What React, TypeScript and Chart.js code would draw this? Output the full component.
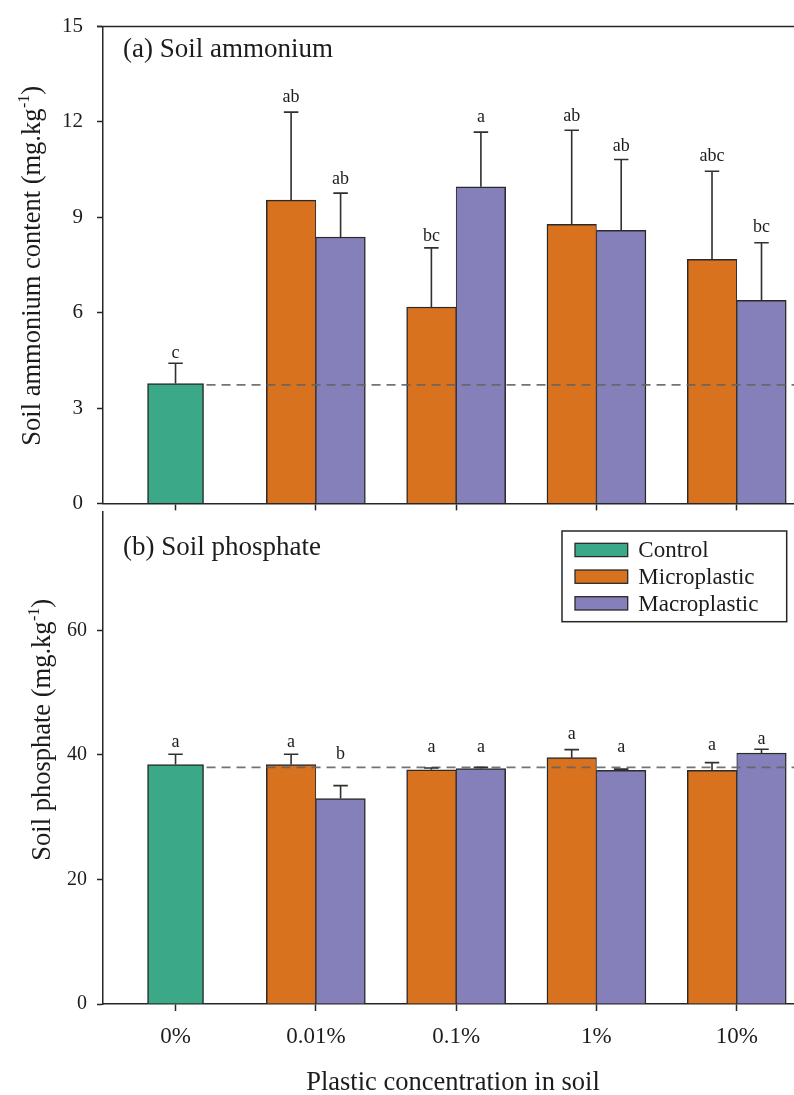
import React, { useEffect, useRef } from 'react';
import { Chart, registerables } from 'chart.js';

Chart.register(...registerables);

const FONT = "'Liberation Serif', 'Times New Roman', Times, serif";
const INK = '#1c1c1c';
const AXIS = '#262626';
const BAR_EDGE = '#2a2a2a';

// ---------- data ----------
const categories = ['0%', '0.01%', '0.1%', '1%', '10%'];
const seriesNames = ['Control', 'Microplastic', 'Macroplastic'];
const seriesColors = ['#3BA887', '#D8721F', '#8580BA'];

// (a) Soil ammonium (mg.kg-1)
const ammoniumControl = [3.77, null, null, null, null];
const ammoniumMicro = [null, 9.54, 6.18, 8.78, 7.68];
const ammoniumMacro = [null, 8.38, 9.96, 8.59, 6.39];
const ammoniumControlErr = [0.64, null, null, null, null];
const ammoniumMicroErr = [null, 2.77, 1.86, 2.96, 2.77];
const ammoniumMacroErr = [null, 1.38, 1.72, 2.23, 1.81];
const ammoniumControlLetters = ['c', null, null, null, null];
const ammoniumMicroLetters = [null, 'ab', 'bc', 'ab', 'abc'];
const ammoniumMacroLetters = [null, 'ab', 'a', 'ab', 'bc'];
const ammoniumControlLetterAt = [4.58, null, null, null, null];
const ammoniumMicroLetterAt = [null, 12.62, 8.24, 12.03, 10.78];
const ammoniumMacroLetterAt = [null, 10.04, 12.01, 11.09, 8.55];
const ammoniumReference = 3.73;
const ammoniumTicks = [0, 3, 6, 9, 12, 15];

// (b) Soil phosphate (mg.kg-1)
const phosphateControl = [38.44, null, null, null, null];
const phosphateMicro = [null, 38.44, 37.6, 39.56, 37.52];
const phosphateMacro = [null, 32.98, 37.8, 37.52, 40.3];
const phosphateControlErr = [1.66, null, null, null, null];
const phosphateMicroErr = [null, 1.66, 0.3, 1.29, 1.23];
const phosphateMacroErr = [null, 2.09, 0.2, 0.2, 0.6];
const phosphateControlLetters = ['a', null, null, null, null];
const phosphateMicroLetters = [null, 'a', 'a', 'a', 'a'];
const phosphateMacroLetters = [null, 'b', 'a', 'a', 'a'];
const phosphateControlLetterAt = [41.27, null, null, null, null];
const phosphateMicroLetterAt = [null, 41.27, 40.46, 42.61, 40.85];
const phosphateMacroLetterAt = [null, 39.4, 40.46, 40.46, 41.81];
const phosphateReference = 38.0;
const phosphateTicks = [0, 20, 40, 60];

// ---------- helpers ----------
const X_MIN = -0.517;
const X_MAX = 4.408;

type Num = number | null;

function toPoints(vals: Num[]) {
  return vals.map((v, i) => ({ x: i, y: v }));
}

function makeDatasets(ctrl: Num[], micro: Num[], macro: Num[]) {
  return [
    {
      label: seriesNames[0],
      data: toPoints(ctrl),
      backgroundColor: seriesColors[0],
      borderColor: BAR_EDGE,
      borderWidth: { top: 1.5, left: 1.5, right: 1.5, bottom: 0 },
      barThickness: 56,
      skipNull: true,
    },
    {
      label: seriesNames[1],
      data: toPoints(micro),
      backgroundColor: seriesColors[1],
      borderColor: BAR_EDGE,
      borderWidth: { top: 1.5, left: 1.5, right: 1, bottom: 0 },
      barThickness: 49.5,
      skipNull: true,
    },
    {
      label: seriesNames[2],
      data: toPoints(macro),
      backgroundColor: seriesColors[2],
      borderColor: BAR_EDGE,
      borderWidth: { top: 1.5, left: 1, right: 1.5, bottom: 0 },
      barThickness: 49.5,
      skipNull: true,
    },
  ];
}

function drawYTitle(
  ctx: CanvasRenderingContext2D,
  baselineX: number,
  centerY: number,
  main: string,
  sup: string,
  tail: string,
  size: number
) {
  ctx.save();
  ctx.translate(baselineX, centerY);
  ctx.rotate(-Math.PI / 2);
  const big = `${size}px ${FONT}`;
  const small = `${Math.round(size * 0.62)}px ${FONT}`;
  ctx.font = big;
  const w1 = ctx.measureText(main).width;
  const w3 = ctx.measureText(tail).width;
  ctx.font = small;
  const w2 = ctx.measureText(sup).width;
  let u = -(w1 + w2 + w3) / 2;
  ctx.fillStyle = INK;
  ctx.textAlign = 'left';
  ctx.textBaseline = 'alphabetic';
  ctx.font = big;
  ctx.fillText(main, u, 0);
  u += w1 + 0.5;
  ctx.font = small;
  ctx.fillText(sup, u, -size * 0.42);
  u += w2;
  ctx.font = big;
  ctx.fillText(tail, u, 0);
  ctx.restore();
}

interface PanelCfg {
  errors: Num[][];
  letters: (string | null)[][];
  letterAt: Num[][];
  reference: number;
  panelLabel: string;
  panelLabelY: number;
  titleMain: string;
  titleBaselineX: number;
  titleCenterY: number;
  drawTopBorder: boolean;
  legend: boolean;
  xTitle: boolean;
}

function makePanelPlugin(id: string, cfg: PanelCfg) {
  return {
    id,
    afterDatasetsDraw(chart: any) {
      const ctx: CanvasRenderingContext2D = chart.ctx;
      const area = chart.chartArea;
      const yScale = chart.scales.y;
      ctx.save();

      // dashed reference line (control mean)
      const ctrlEl = chart.getDatasetMeta(0).data[0];
      const refY = yScale.getPixelForValue(cfg.reference);
      ctx.beginPath();
      ctx.setLineDash([9, 6]);
      ctx.lineWidth = 1.6;
      ctx.strokeStyle = 'rgba(100,100,100,0.9)';
      ctx.moveTo(ctrlEl.x + ctrlEl.width / 2 + 3, refY);
      ctx.lineTo(area.right, refY);
      ctx.stroke();
      ctx.setLineDash([]);

      // error bars
      ctx.strokeStyle = '#303030';
      ctx.lineWidth = 1.6;
      chart.data.datasets.forEach((ds: any, d: number) => {
        const meta = chart.getDatasetMeta(d);
        ds.data.forEach((pt: any, j: number) => {
          const err = cfg.errors[d][j];
          if (pt.y === null || err === null) return;
          const el = meta.data[j];
          const yTop = yScale.getPixelForValue(pt.y + err);
          ctx.beginPath();
          ctx.moveTo(el.x, el.y);
          ctx.lineTo(el.x, yTop);
          ctx.moveTo(el.x - 7.25, yTop);
          ctx.lineTo(el.x + 7.25, yTop);
          ctx.stroke();
        });
      });

      // significance letters
      ctx.fillStyle = INK;
      ctx.font = `18px ${FONT}`;
      ctx.textAlign = 'center';
      ctx.textBaseline = 'alphabetic';
      chart.data.datasets.forEach((ds: any, d: number) => {
        const meta = chart.getDatasetMeta(d);
        ds.data.forEach((pt: any, j: number) => {
          const letter = cfg.letters[d][j];
          const at = cfg.letterAt[d][j];
          if (pt.y === null || letter === null || at === null) return;
          const el = meta.data[j];
          ctx.fillText(letter, el.x, yScale.getPixelForValue(at));
        });
      });

      // top border
      if (cfg.drawTopBorder) {
        ctx.beginPath();
        ctx.strokeStyle = AXIS;
        ctx.lineWidth = 1.5;
        ctx.moveTo(area.left - 6, area.top);
        ctx.lineTo(area.right, area.top);
        ctx.stroke();
      }

      // panel label
      ctx.fillStyle = INK;
      ctx.font = `27px ${FONT}`;
      ctx.textAlign = 'left';
      ctx.fillText(cfg.panelLabel, area.left + 20, cfg.panelLabelY);

      // legend
      if (cfg.legend) {
        const lx = 562;
        const ly = 49;
        ctx.lineWidth = 1.5;
        ctx.strokeStyle = AXIS;
        ctx.strokeRect(lx, ly, 224.7, 90.7);
        chart.data.datasets.forEach((ds: any, k: number) => {
          const sy = 61.3 + k * 26.7;
          ctx.fillStyle = ds.backgroundColor;
          ctx.fillRect(575, sy, 52.7, 13.3);
          ctx.lineWidth = 1.3;
          ctx.strokeStyle = BAR_EDGE;
          ctx.strokeRect(575, sy, 52.7, 13.3);
          ctx.fillStyle = INK;
          ctx.font = `23px ${FONT}`;
          ctx.textAlign = 'left';
          ctx.textBaseline = 'alphabetic';
          ctx.fillText(ds.label, 638.3, sy + 13.8);
        });
      }

      // x axis title
      if (cfg.xTitle) {
        ctx.fillStyle = INK;
        ctx.font = `26.5px ${FONT}`;
        ctx.textAlign = 'center';
        ctx.textBaseline = 'alphabetic';
        ctx.fillText('Plastic concentration in soil', 453, 608);
      }

      ctx.restore();

      // y axis title
      drawYTitle(ctx, cfg.titleBaselineX, cfg.titleCenterY, cfg.titleMain, '-1', ')', 26.5);
    },
  };
}

function xScale(showLabels: boolean, height: number) {
  return {
    type: 'linear',
    min: X_MIN,
    max: X_MAX,
    offset: false,
    afterBuildTicks: (s: any) => {
      s.ticks = categories.map((_, i) => ({ value: i }));
    },
    ticks: {
      display: showLabels,
      callback: (v: any) => categories[Math.round(Number(v))] ?? '',
      font: { family: FONT, size: 23 },
      color: INK,
      padding: 12,
      maxRotation: 0,
      autoSkip: false,
    },
    grid: {
      display: true,
      offset: false,
      drawOnChartArea: false,
      drawTicks: true,
      tickLength: 7,
      tickWidth: 1.5,
      tickColor: AXIS,
    },
    border: { display: true, color: AXIS, width: 1.5 },
    afterFit: (s: any) => {
      s.height = height;
    },
  };
}

function yScale(min: number, max: number, ticks: number[], size: number, padding: number) {
  return {
    min,
    max,
    afterBuildTicks: (s: any) => {
      s.ticks = ticks.map((v) => ({ value: v }));
    },
    ticks: {
      font: { family: FONT, size },
      color: INK,
      padding,
    },
    grid: {
      display: true,
      drawOnChartArea: false,
      drawTicks: true,
      tickLength: 6,
      tickWidth: 1.5,
      tickColor: AXIS,
    },
    border: { display: true, color: AXIS, width: 1.5 },
    afterFit: (s: any) => {
      s.width = 103;
    },
  };
}

function topConfig(): any {
  return {
    type: 'bar',
    data: { datasets: makeDatasets(ammoniumControl, ammoniumMicro, ammoniumMacro) },
    options: {
      responsive: false,
      animation: false,
      devicePixelRatio: 1,
      layout: { padding: { left: 0, right: 0, top: 20, bottom: 0 } },
      plugins: { legend: { display: false }, tooltip: { enabled: false } },
      scales: {
        x: xScale(false, 18),
        y: yScale(0, 15, ammoniumTicks, 21, 14),
      },
    },
    plugins: [
      makePanelPlugin('panelA', {
        errors: [ammoniumControlErr, ammoniumMicroErr, ammoniumMacroErr],
        letters: [ammoniumControlLetters, ammoniumMicroLetters, ammoniumMacroLetters],
        letterAt: [ammoniumControlLetterAt, ammoniumMicroLetterAt, ammoniumMacroLetterAt],
        reference: ammoniumReference,
        panelLabel: '(a) Soil ammonium',
        panelLabelY: 57,
        titleMain: 'Soil ammonium content (mg.kg',
        titleBaselineX: 40,
        titleCenterY: 266,
        drawTopBorder: true,
        legend: false,
        xTitle: false,
      }),
    ],
  };
}

function bottomConfig(): any {
  return {
    type: 'bar',
    data: { datasets: makeDatasets(phosphateControl, phosphateMicro, phosphateMacro) },
    options: {
      responsive: false,
      animation: false,
      devicePixelRatio: 1,
      layout: { padding: { left: 0, right: 0, top: 30, bottom: 0 } },
      plugins: { legend: { display: false }, tooltip: { enabled: false } },
      scales: {
        x: xScale(true, 91),
        y: yScale(0, 79, phosphateTicks, 20, 10),
      },
    },
    plugins: [
      makePanelPlugin('panelB', {
        errors: [phosphateControlErr, phosphateMicroErr, phosphateMacroErr],
        letters: [phosphateControlLetters, phosphateMicroLetters, phosphateMacroLetters],
        letterAt: [phosphateControlLetterAt, phosphateMicroLetterAt, phosphateMacroLetterAt],
        reference: phosphateReference,
        panelLabel: '(b) Soil phosphate',
        panelLabelY: 73,
        titleMain: 'Soil phosphate (mg.kg',
        titleBaselineX: 50,
        titleCenterY: 248,
        drawTopBorder: false,
        legend: true,
        xTitle: true,
      }),
    ],
  };
}

export default function App() {
  const topRef = useRef<HTMLCanvasElement>(null);
  const botRef = useRef<HTMLCanvasElement>(null);

  useEffect(() => {
    const c1 = new Chart(topRef.current as HTMLCanvasElement, topConfig());
    const c2 = new Chart(botRef.current as HTMLCanvasElement, bottomConfig());
    return () => {
      c1.destroy();
      c2.destroy();
    };
  }, []);

  return (
    <div
      style={{
        position: 'absolute',
        left: 0,
        top: 0,
        width: 794,
        height: 1095,
        overflow: 'hidden',
        background: '#ffffff',
      }}
    >
      <canvas
        ref={topRef}
        width={794}
        height={530}
        style={{ position: 'absolute', left: 0, top: 0, width: 794, height: 530 }}
      />
      <canvas
        ref={botRef}
        width={794}
        height={613}
        style={{ position: 'absolute', left: 0, top: 482, width: 794, height: 613 }}
      />
    </div>
  );
}
